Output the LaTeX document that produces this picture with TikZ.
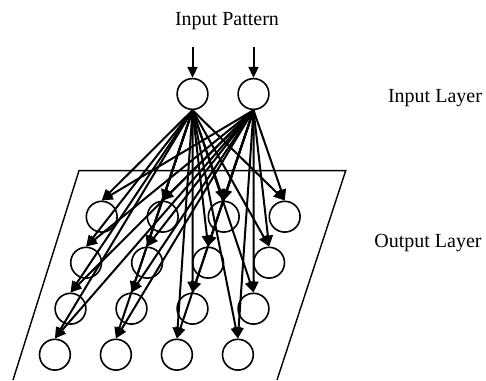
\documentclass[tikz,border=0pt]{standalone}
\usepackage{fontspec}
\setmainfont{Liberation Serif}
\usetikzlibrary{arrows.meta}

\begin{document}
\begin{tikzpicture}[x=0.5pt,y=0.5pt,
    neuron/.style={circle,draw,line width=0.8pt,minimum size=15.4pt,inner sep=0pt},
    link/.style={-{Triangle[length=5.5pt,width=5pt]},line width=1pt}]
    \useasboundingbox (0,0) rectangle (486,380);
    % 输入层
    \node[neuron] (in1) at (192.5,286) {};
    \node[neuron] (in2) at (253.5,286) {};
    \coordinate (p1) at (192.5,333);
    \coordinate (p2) at (253.5,333);
    \draw[link] (p1) -- (in1);
    \draw[link] (p2) -- (in2);
    \node (pattern) at (227,359) {Input Pattern};
    \node (inlayer) at (435,282) {Input Layer};
    % 输出层
    \draw[line width=0.7pt] (13,0) -- (79,209.3) -- (345.7,209.3) -- (277,0);
    \foreach \r in {0,...,3}
      \foreach \c in {0,...,3}
        \node[neuron] (o\r\c) at ({101.7+61*\c-15.6*\r},{163.3-46*\r}) {};
    \foreach \r in {0,...,3}
      \foreach \c in {0,...,3}
      {
        \draw[link] (in1.south) -- (o\r\c.north);
        \draw[link] (in2.south) -- (o\r\c.north);
      }
    \node (outlayer) at (428,137) {Output Layer};
\end{tikzpicture}
\end{document}
